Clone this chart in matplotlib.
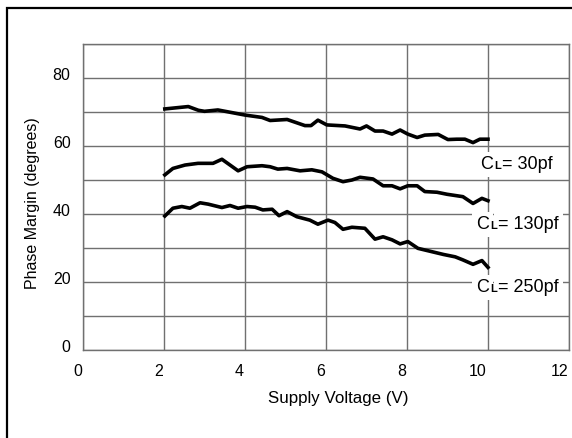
import matplotlib
matplotlib.use("Agg")
import matplotlib.pyplot as plt
import matplotlib.transforms as mtransforms
from matplotlib.patches import Rectangle

plt.rcParams['font.family'] = ['Liberation Sans', 'DejaVu Sans']

# CL = 30pf
v30 = [2.02, 2.6, 2.85, 3.0, 3.33, 4.0, 4.42, 4.62, 5.04, 5.48, 5.63, 5.8, 6.02,
       6.47, 6.84, 7.0, 7.21, 7.41, 7.63, 7.83, 8.02, 8.25, 8.44, 8.77, 9.01,
       9.23, 9.43, 9.63, 9.8, 10.0]
pm30 = [70.9, 71.6, 70.5, 70.2, 70.6, 69.1, 68.4, 67.5, 67.8, 66.0, 66.0, 67.6, 66.2,
        65.9, 65.0, 65.9, 64.4, 64.4, 63.5, 64.7, 63.5, 62.5, 63.2, 63.4, 61.9,
        62.0, 62.0, 61.0, 62.0, 62.0]

# CL = 130pf
v130 = [2.02, 2.22, 2.52, 2.84, 3.01, 3.21, 3.43, 3.83, 4.05, 4.42, 4.62, 4.81,
        5.04, 5.36, 5.65, 5.9, 6.17, 6.42, 6.64, 6.84, 7.16, 7.41, 7.63, 7.83,
        8.02, 8.25, 8.44, 8.74, 8.99, 9.38, 9.63, 9.85, 10.0]
pm130 = [51.5, 53.4, 54.4, 54.9, 54.9, 54.9, 56.1, 52.7, 53.9, 54.2, 53.9, 53.2,
         53.4, 52.7, 53.0, 52.4, 50.5, 49.5, 50.0, 50.8, 50.3, 48.3, 48.3, 47.4,
         48.3, 48.3, 46.6, 46.4, 45.8, 45.1, 43.1, 44.6, 43.9]

# CL = 250pf
v250 = [2.02, 2.22, 2.44, 2.64, 2.89, 3.09, 3.43, 3.63, 3.83, 4.05, 4.25, 4.44,
        4.67, 4.84, 5.04, 5.28, 5.6, 5.8, 6.05, 6.22, 6.42, 6.64, 6.96, 7.21,
        7.41, 7.63, 7.83, 8.02, 8.27, 8.62, 8.9, 9.19, 9.38, 9.63, 9.85, 10.0]
pm250 = [39.4, 41.7, 42.2, 41.7, 43.3, 42.9, 41.9, 42.5, 41.7, 42.2, 42.0, 41.2,
         41.4, 39.5, 40.7, 39.2, 38.2, 37.0, 38.2, 37.5, 35.5, 36.1, 35.8, 32.6,
         33.3, 32.4, 31.2, 31.9, 29.9, 28.9, 28.1, 27.4, 26.5, 25.2, 26.3, 24.3]

cap_values = ["= 30pf", "= 130pf", "= 250pf"]
label_x = [9.8, 9.7, 9.7]
label_y = [55, 37.4, 18.8]

fig = plt.figure(figsize=(5.72, 4.38), dpi=100)
ax = fig.add_axes([83/572, 88/438, 486/572, 306/438])

grid_c = '#707070'
ax.set_xlim(0, 12)
ax.set_ylim(0, 90)
ax.set_xticks(range(0, 13, 2))
ax.set_yticks(range(0, 81, 20))
ax.set_yticks(range(10, 91, 20), minor=True)
ax.grid(True, which='both', color=grid_c, lw=1.0)
ax.set_axisbelow(True)
for s in ax.spines.values():
    s.set_color(grid_c)
    s.set_linewidth(1.0)
ax.tick_params(which='both', length=0, labelsize=11.5, colors='black')
ax.tick_params(axis='x', pad=10)
ax.tick_params(axis='y', pad=9)

# x tick labels sit with their right edge on the grid line
dx = mtransforms.ScaledTranslation(-1/100, 0, fig.dpi_scale_trans)
for lab in ax.get_xticklabels():
    lab.set_ha('right')
    lab.set_transform(lab.get_transform() + dx)
dy = mtransforms.ScaledTranslation(0, 4/100, fig.dpi_scale_trans)
for lab in ax.get_yticklabels():
    lab.set_transform(lab.get_transform() + dy)

ax.plot(v30, pm30, color='black', lw=2.6, solid_joinstyle='round')
ax.plot(v130, pm130, color='black', lw=2.6, solid_joinstyle='round')
ax.plot(v250, pm250, color='black', lw=2.6, solid_joinstyle='round')

box = dict(fc='white', ec='none', pad=3)
for t, x, y in zip(cap_values, label_x, label_y):
    ax.annotate("C", (x, y), fontsize=13, va='baseline', ha='left', bbox=box,
                xytext=(0, -4.5), textcoords='offset points', zorder=3)
    ax.annotate(t, (x, y), fontsize=13, va='baseline', ha='left', bbox=box,
                xytext=(16, -4.5), textcoords='offset points', zorder=3)
    ax.annotate("L", (x, y), fontsize=8, fontweight='bold', va='baseline', ha='left',
                bbox=dict(fc='white', ec='none', pad=0.3),
                xytext=(10.5, -4.5), textcoords='offset points', zorder=4)

ax.set_xlabel("Supply Voltage (V)", fontsize=12.2)
ax.set_ylabel("Phase Margin (degrees)", fontsize=11.5)
ax.xaxis.set_label_coords(0.525, -0.157)
ax.xaxis.label.set_va('center')
ax.yaxis.set_label_coords(-0.103, 0.48)
ax.yaxis.label.set_va('center')

# outer frame of the original figure (runs off the right and bottom)
fig.add_artist(Rectangle((7/572, -0.5), 2.0, 0.5 + 1 - 8/438, transform=fig.transFigure,
                         fill=False, ec='black', lw=1.6, clip_on=False))

fig.savefig("out.png", dpi=100)
